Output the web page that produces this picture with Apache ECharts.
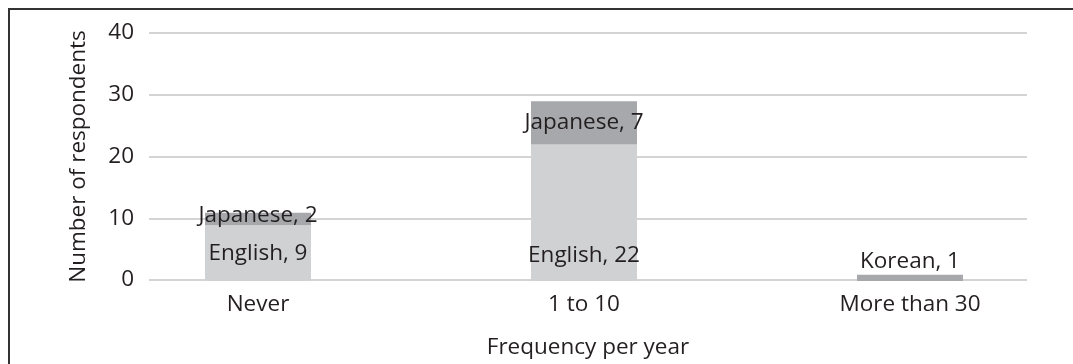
<!DOCTYPE html>
<html>
<head>
<meta charset="utf-8">
<script src="https://cdn.jsdelivr.net/npm/echarts@6/dist/echarts.min.js"></script>
<style>
  html, body { margin: 0; padding: 0; background: #fff; }
  #chart { width: 1073px; height: 364px; }
</style>
</head>
<body>
<div id="chart"></div>
<script>
// Frequency categories and respondents per language
const categories = ['Never', '1 to 10', 'More than 30'];
const english = [9, 22, null];
const japanese = [2, 7, null];
const korean = [null, null, 1];
const yTicks = { min: 0, max: 40, interval: 10 };

const FONT = 'Open Sans';
const FS = 22.5;
const TEXT = '#231f20';
const LIGHT = '#d0d1d3';
const DARK = '#a7a8ab';

const chart = echarts.init(document.getElementById('chart'), null, { renderer: 'canvas' });

function labelFor(pos, extra) {
  return Object.assign({
    show: true,
    position: pos,
    formatter: '{a}, {c}',
    color: TEXT,
    fontFamily: FONT,
    fontSize: FS
  }, extra || {});
}

chart.setOption({
  animation: false,
  textStyle: { fontFamily: FONT },
  graphic: [{
    type: 'rect',
    shape: { x: 9, y: 9, width: 1100, height: 400 },
    style: { fill: 'none', stroke: '#333', lineWidth: 2 },
    silent: true
  }],
  grid: [
    // axis frame: gridlines, tick labels, axis titles
    { left: 149, right: 46, top: 33, height: 248 },
    // bar layer
    { left: 95, width: 982, top: 33, height: 248 }
  ],
  xAxis: [
    {
      type: 'category', gridIndex: 0, data: categories,
      axisLine: { show: false }, axisTick: { show: false }, axisLabel: { show: false },
      name: 'Frequency per year', nameLocation: 'middle', nameGap: 56,
      nameTextStyle: { color: TEXT, fontSize: FS, fontFamily: FONT }
    },
    {
      type: 'category', gridIndex: 1, data: categories,
      axisLine: { show: false }, axisTick: { show: false },
      axisLabel: { color: TEXT, fontSize: FS, fontFamily: FONT, margin: 12 }
    }
  ],
  yAxis: [
    {
      type: 'value', gridIndex: 0, min: yTicks.min, max: yTicks.max, interval: yTicks.interval,
      axisLine: { show: false }, axisTick: { show: false },
      axisLabel: { color: TEXT, fontSize: FS, fontFamily: FONT, margin: 15 },
      splitLine: { lineStyle: { color: '#c6c6c6', width: 1.5 } },
      name: 'Number of respondents', nameLocation: 'middle', nameGap: 59,
      nameTextStyle: { color: TEXT, fontSize: FS, fontFamily: FONT }
    },
    {
      type: 'value', gridIndex: 1, min: yTicks.min, max: yTicks.max, interval: yTicks.interval,
      show: false, splitLine: { show: false }
    }
  ],
  series: [
    {
      name: 'English', type: 'bar', stack: 'lang', xAxisIndex: 1, yAxisIndex: 1,
      barWidth: 106, itemStyle: { color: LIGHT },
      data: english.map((v, i) => i === 1
        ? { value: v, label: { position: 'insideBottom', distance: 14 } }
        : v),
      label: labelFor('inside')
    },
    {
      name: 'Japanese', type: 'bar', stack: 'lang', xAxisIndex: 1, yAxisIndex: 1,
      barWidth: 106, itemStyle: { color: DARK },
      data: japanese.map((v, i) => i === 0
        ? { value: v, label: { offset: [0, -3] } }
        : v),
      label: labelFor('inside')
    },
    {
      name: 'Korean', type: 'bar', stack: 'lang', xAxisIndex: 1, yAxisIndex: 1,
      barWidth: 106, itemStyle: { color: DARK },
      data: korean,
      label: labelFor('top', { distance: 2 })
    }
  ]
});
</script>
</body>
</html>
